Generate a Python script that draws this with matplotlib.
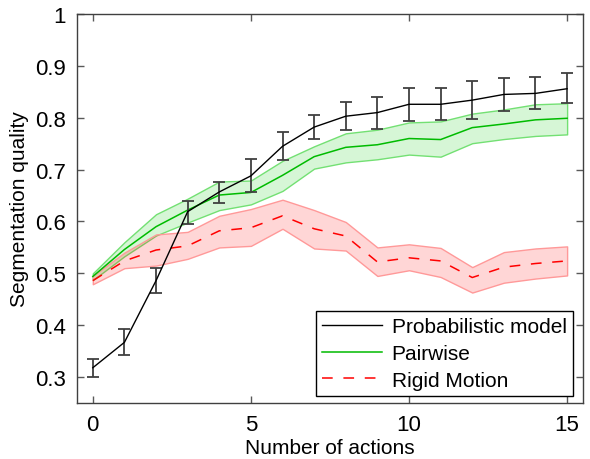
import numpy as np
import matplotlib
matplotlib.use("Agg")
import matplotlib.pyplot as plt

plt.rcParams['font.family'] = ['Liberation Sans', 'DejaVu Sans']

actions = np.arange(16)

# probabilistic model: mean and error bar ends
prob_mean = [0.318, 0.367, 0.486, 0.619, 0.657, 0.688, 0.745, 0.782, 0.803, 0.810,
             0.826, 0.826, 0.834, 0.845, 0.847, 0.856]
prob_low = [0.301, 0.342, 0.463, 0.596, 0.636, 0.657, 0.719, 0.759, 0.777, 0.779,
            0.794, 0.796, 0.798, 0.813, 0.816, 0.828]
prob_high = [0.334, 0.393, 0.510, 0.640, 0.677, 0.720, 0.772, 0.805, 0.830, 0.840,
             0.858, 0.857, 0.870, 0.877, 0.879, 0.886]

# pairwise: mean and band
pair_mean = [0.494, 0.546, 0.590, 0.622, 0.651, 0.656, 0.689, 0.725, 0.743, 0.748,
             0.760, 0.758, 0.781, 0.788, 0.796, 0.799]
pair_low = [0.487, 0.533, 0.573, 0.598, 0.622, 0.633, 0.659, 0.702, 0.714, 0.720,
            0.729, 0.725, 0.751, 0.759, 0.765, 0.768]
pair_high = [0.500, 0.560, 0.614, 0.644, 0.677, 0.679, 0.717, 0.745, 0.770, 0.777,
             0.791, 0.793, 0.808, 0.816, 0.826, 0.828]

# rigid motion: mean and band
rigid_mean = [0.486, 0.524, 0.545, 0.553, 0.582, 0.588, 0.611, 0.586, 0.572, 0.522,
              0.530, 0.524, 0.492, 0.512, 0.519, 0.524]
rigid_low = [0.479, 0.510, 0.515, 0.528, 0.550, 0.553, 0.586, 0.548, 0.544, 0.495,
             0.506, 0.493, 0.463, 0.482, 0.490, 0.496]
rigid_high = [0.495, 0.540, 0.575, 0.580, 0.611, 0.624, 0.642, 0.622, 0.599, 0.550,
              0.556, 0.549, 0.512, 0.541, 0.548, 0.552]

fig = plt.figure(figsize=(5.9, 4.6), dpi=100)
ax = fig.add_axes([0.1305, 0.1217, 0.8575, 0.8456])

# bands
ax.fill_between(actions, pair_low, pair_high, facecolor=(0.0, 0.8, 0.0, 0.16),
                edgecolor=(0.45, 0.88, 0.45), linewidth=1.0, zorder=1)
ax.fill_between(actions, rigid_low, rigid_high, facecolor=(1.0, 0.0, 0.0, 0.16),
                edgecolor=(1.0, 0.6, 0.6), linewidth=1.0, zorder=2)

ax.plot(actions, pair_mean, color='#00bb00', lw=1.1, zorder=3, label='Pairwise')
ax.plot(actions, rigid_mean, color='#ff0000', lw=1.1, dashes=(7, 7), zorder=4,
        label='Rigid Motion')

err = [np.array(prob_mean) - np.array(prob_low), np.array(prob_high) - np.array(prob_mean)]
ax.errorbar(actions, prob_mean, yerr=err, fmt='none', ecolor='0.25', elinewidth=1.3,
            capsize=4, capthick=1.3, zorder=5)
ax.plot(actions, prob_mean, color='black', lw=1.0, zorder=6, label='Probabilistic model')

ax.set_xlim(-0.5, 15.5)
ax.set_ylim(0.25, 1.0)
ax.set_xticks([0, 5, 10, 15])
ax.set_yticks([0.3, 0.4, 0.5, 0.6, 0.7, 0.8, 0.9, 1.0])
ax.set_yticklabels(['0.3', '0.4', '0.5', '0.6', '0.7', '0.8', '0.9', '1'])
ax.tick_params(direction='in', length=5, width=1, color='0.35', labelsize=16,
               top=True, right=True, pad=8)
for s in ax.spines.values():
    s.set_color('0.25')
    s.set_linewidth(1.0)

ax.set_xlabel('Number of actions', fontsize=15, labelpad=2)
ax.set_ylabel('Segmentation quality', fontsize=15, labelpad=4)

handles, labels = ax.get_legend_handles_labels()
order = [2, 0, 1]
leg = ax.legend([handles[i] for i in order], [labels[i] for i in order],
                loc='lower right', fontsize=15, fancybox=False, framealpha=1,
                edgecolor='black', borderpad=0.3, handlelength=2.9,
                handletextpad=0.45, labelspacing=0.37,
                bbox_to_anchor=(0.98, 0.018), borderaxespad=0)
leg.get_frame().set_linewidth(1.0)

fig.savefig('out.png', dpi=100)
